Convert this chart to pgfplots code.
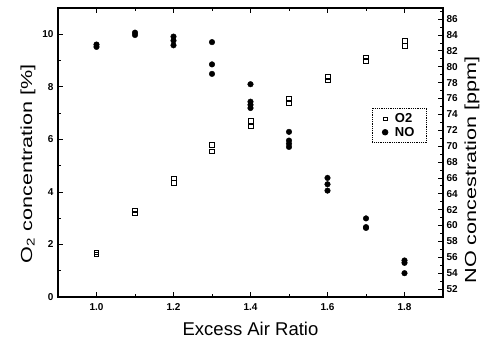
\documentclass[border=0pt]{standalone}
\usepackage{pgfplots}
\pgfplotsset{compat=1.18}
\usepackage{fontspec}
\setmainfont{Liberation Sans}
\begin{document}
\begin{tikzpicture}
\useasboundingbox (-58pt,-48pt) rectangle (427pt,297pt);
\pgfplotsset{
 every axis/.append style={
  scale only axis, width=385pt, height=289pt,
  xmin=0.9, xmax=1.9,
  tick style={line width=0.8pt, black},
  major tick length=5pt, minor tick length=3pt,
  tick align=inside,
  axis line style={line width=1.2pt},
  /pgf/number format/assume math mode=true,
  tick label style={font=\fontsize{10}{10}\selectfont\bfseries},
  label style={font=\fontsize{16}{16}\selectfont},
 }
}
\begin{axis}[at={(0,0)}, anchor=south west,
  ymin=0, ymax=11,
  xtick={1.0,1.2,1.4,1.6,1.8}, minor xtick={1.1,1.3,1.5,1.7},
  xticklabel style={yshift=-3pt, /pgf/number format/.cd, fixed, fixed zerofill, precision=1},
  yticklabel style={xshift=-1pt},
  ytick={0,2,4,6,8,10}, minor ytick={1,3,5,7,9},
  ytick pos=left, xtick pos=both,
  xlabel={Excess Air Ratio},
  xlabel style={font=\fontsize{18.5}{18.5}\selectfont, yshift=-5pt},
  ylabel={\scalebox{1.35}[1]{O\textsubscript{2} concentration [\%]}},
  ylabel style={at={(ticklabel cs:0.453)}, xshift=2pt},
]
\addplot[only marks, mark=square, mark size=2.3pt, mark options={line width=0.6pt}] coordinates {
(1.0,1.62) (1.0,1.70)
(1.1,3.18) (1.1,3.30)
(1.2,4.35) (1.2,4.52)
(1.3,5.55) (1.3,5.80)
(1.4,6.50) (1.4,6.70)
(1.5,7.40) (1.5,7.55)
(1.6,8.25) (1.6,8.38)
(1.7,9.00) (1.7,9.12)
(1.8,9.55) (1.8,9.75)
};
\end{axis}
\begin{axis}[at={(0,0)}, anchor=south west,
  ymin=51, ymax=87.4,
  axis y line*=right, axis x line=none,
  ytick={52,54,...,86}, minor ytick={53,55,...,87},
  ylabel={\scalebox{1.35}[1]{NO concestration [ppm]}},
  ylabel style={at={(ticklabel cs:0.415)}, xshift=7pt},
  legend style={at={(0.958,0.654)}, anchor=north east, draw=black, densely dotted, line width=0.8pt,
    font=\fontsize{13}{13}\selectfont\bfseries, inner xsep=10pt, inner ysep=3pt, row sep=-1pt,
    /tikz/every odd column/.append style={column sep=5pt}},
  legend cell align=left,
]
\addlegendimage{only marks, mark=square, mark size=1.8pt, mark options={solid, line width=0.6pt}}
\addlegendentry{O2}
\addplot[only marks, mark=*, mark size=2.8pt, mark options={solid}] coordinates {
(1.0,82.5) (1.0,82.8)
(1.1,84.0) (1.1,84.3)
(1.2,82.7) (1.2,83.3) (1.2,83.8)
(1.3,79.1) (1.3,80.3) (1.3,83.1)
(1.4,74.8) (1.4,75.2) (1.4,75.6) (1.4,77.8)
(1.5,69.9) (1.5,70.3) (1.5,70.7) (1.5,71.8)
(1.6,64.4) (1.6,65.2) (1.6,66.0)
(1.7,59.7) (1.7,59.8) (1.7,60.9)
(1.8,54.0) (1.8,55.3) (1.8,55.6)
};
\addlegendentry{NO}
\end{axis}
\end{tikzpicture}
\end{document}
